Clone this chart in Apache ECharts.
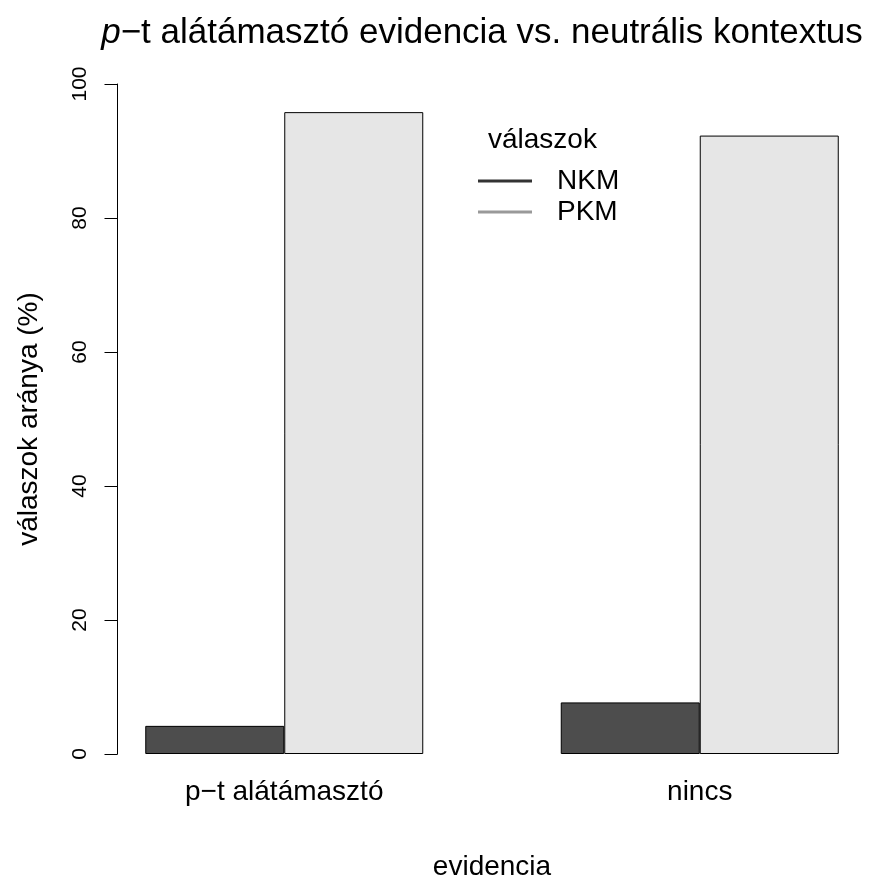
<!DOCTYPE html>
<html><head><meta charset="utf-8">
<script src="https://cdn.jsdelivr.net/npm/echarts@6/dist/echarts.min.js"></script>
<style>html,body{margin:0;padding:0;background:#fff;overflow:hidden}#c{width:889px;height:881px}</style>
</head><body><div id="c"></div>
<script>
const categories = ['p\u2212t alátámasztó', 'nincs'];
const seriesNames = ['NKM', 'PKM'];
const nkmValues = [4.2, 7.7];
const pkmValues = [95.8, 92.3];
const yTicks = [0, 20, 40, 60, 80, 100];

const FONT = '"Liberation Sans", Arial, sans-serif';
const chart = echarts.init(document.getElementById('c'));
chart.setOption({
  backgroundColor: '#fff',
  animation: false,
  title: [
    {
      text: '{i|p}\u2212t alátámasztó evidencia vs. neutrális kontextus',
      left: 477, top: 11, textAlign: 'center',
      textStyle: {
        fontFamily: FONT, fontSize: 35, fontWeight: 'normal', color: '#000',
        rich: { i: { fontFamily: FONT, fontSize: 35, fontStyle: 'italic', color: '#000' } }
      }
    },
    {
      text: 'válaszok', left: 483, top: 121,
      textStyle: { fontFamily: FONT, fontSize: 28, fontWeight: 'normal', color: '#000' }
    }
  ],
  legend: {
    orient: 'vertical', left: 473, top: 162,
    itemWidth: 54, itemHeight: 3, itemGap: 3,
    icon: 'rect',
    data: [
      { name: seriesNames[0], itemStyle: { color: '#333333', borderWidth: 0 } },
      { name: seriesNames[1], itemStyle: { color: '#999999', borderWidth: 0 } }
    ],
    textStyle: { fontFamily: FONT, fontSize: 28, color: '#000', padding: [0, 0, 0, 20] }
  },
  grid: { left: 76.5, width: 831, top: 84, bottom: 127, outerBoundsMode: 'none', containLabel: false },
  xAxis: {
    type: 'category', data: categories,
    axisLine: { show: false }, axisTick: { show: false },
    axisLabel: { fontFamily: FONT, fontSize: 28, color: '#000', margin: 24 },
    name: 'evidencia', nameLocation: 'middle', nameGap: 99,
    nameTextStyle: { fontFamily: FONT, fontSize: 28, color: '#000' }
  },
  yAxis: {
    type: 'value', min: 0, max: 100, interval: 20, offset: -41,
    axisLine: { show: true, lineStyle: { color: '#000', width: 1 } },
    axisTick: { show: true, length: 13, lineStyle: { color: '#000' } },
    splitLine: { show: false },
    axisLabel: { fontFamily: FONT, fontSize: 21, color: '#000', rotate: 90, margin: 27,
      formatter: v => yTicks.includes(v) ? String(v) : '' },
    name: 'válaszok aránya (%)', nameLocation: 'middle', nameGap: 74,
    nameTextStyle: { fontFamily: FONT, fontSize: 28, color: '#000' }
  },
  series: [
    { name: seriesNames[0], type: 'bar', data: nkmValues, barWidth: 139, barGap: '0%',
      itemStyle: { color: '#4d4d4d', borderColor: '#000', borderWidth: 1 } },
    { name: seriesNames[1], type: 'bar', data: pkmValues, barWidth: 139, barGap: '0%',
      itemStyle: { color: '#e6e6e6', borderColor: '#000', borderWidth: 1 } }
  ]
});
</script></body></html>
